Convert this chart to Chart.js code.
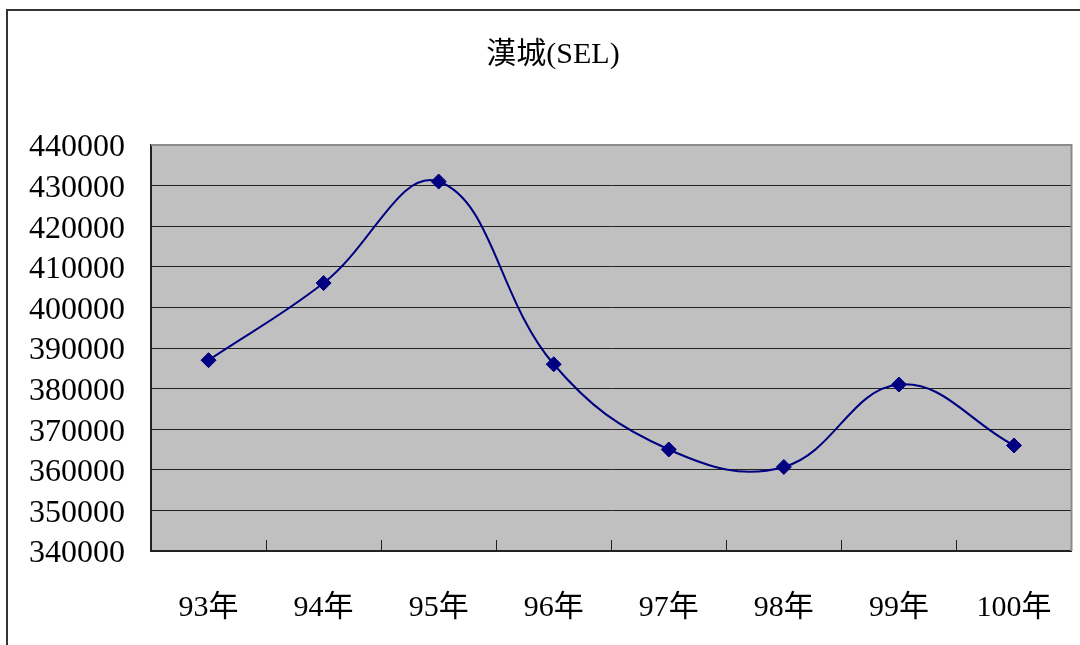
<!DOCTYPE html>
<html>
<head>
<meta charset="utf-8">
<script src="https://cdn.jsdelivr.net/npm/chart.js@4"></script>
<style>
    html, body { margin: 0; padding: 0; background: #fff; }
    #wrap { width: 1080px; height: 645px; position: relative; }
</style>
</head>
<body>
<div id="wrap"><canvas id="chart" width="1080" height="645"></canvas></div>
<script>
const title = '漢城(SEL)';
const years = ['93年', '94年', '95年', '96年', '97年', '98年', '99年', '100年'];
const passengers = [387000, 406000, 431000, 386000, 365000, 360700, 381000, 366000];
const yMin = 340000;
const yMax = 440000;
const yStep = 10000;

const fontFamily = '"Liberation Serif", "DejaVu Serif", "Noto Sans CJK TC", serif';

// Excel style frame, title, gray plot area and its border
const framePlugin = {
    id: 'frame',
    beforeDraw(chart) {
        const { ctx, chartArea: a } = chart;
        ctx.save();
        ctx.fillStyle = '#c0c0c0';
        ctx.fillRect(a.left, a.top, a.right - a.left, a.bottom - a.top);
        ctx.strokeStyle = '#333';
        ctx.lineWidth = 2;
        ctx.beginPath();
        ctx.moveTo(7, 645);
        ctx.lineTo(7, 10);
        ctx.lineTo(1080, 10);
        ctx.stroke();
        // chart title, sits left of the plot centre like the original
        ctx.fillStyle = '#000';
        ctx.font = '30px ' + fontFamily;
        ctx.textAlign = 'center';
        ctx.textBaseline = 'middle';
        ctx.fillText(title, 553, 55);
        ctx.restore();
    },
    beforeDatasetsDraw(chart) {
        const { ctx, chartArea: a } = chart;
        ctx.save();
        ctx.strokeStyle = '#8a8a8a';
        ctx.lineWidth = 2;
        ctx.beginPath();
        ctx.moveTo(a.left, a.top);
        ctx.lineTo(a.right, a.top);
        ctx.lineTo(a.right, a.bottom);
        ctx.stroke();
        ctx.restore();
    }
};

new Chart(document.getElementById('chart').getContext('2d'), {
    type: 'line',
    data: {
        labels: years,
        datasets: [{
            label: title,
            data: passengers,
            borderColor: '#000080',
            backgroundColor: '#000080',
            borderWidth: 2,
            tension: 0.4,
            fill: false,
            pointStyle: 'rectRot',
            pointRadius: 7.5,
            pointBackgroundColor: '#000080',
            pointBorderColor: '#000080',
            pointBorderWidth: 1
        }]
    },
    options: {
        responsive: false,
        animation: false,
        devicePixelRatio: 1,
        layout: { padding: { left: 0, right: 8, top: 145, bottom: 0 } },
        plugins: {
            legend: { display: false },
            tooltip: { enabled: false },
            title: { display: false }
        },
        scales: {
            x: {
                offset: true,
                grid: {
                    offset: true,
                    drawOnChartArea: false,
                    drawTicks: true,
                    tickLength: -11,
                    color: '#222',
                    lineWidth: 1
                },
                border: { display: true, color: '#222', width: 2 },
                ticks: {
                    color: '#000',
                    padding: 50,
                    maxRotation: 0,
                    autoSkip: false,
                    font: { family: fontFamily, size: 30, lineHeight: 1.2 }
                },
                afterFit: (scale) => {
                    scale.height = 94;
                    scale.paddingLeft = 0;
                    scale.paddingRight = 0;
                }
            },
            y: {
                min: yMin,
                max: yMax,
                grid: {
                    color: '#222',
                    lineWidth: 1,
                    drawTicks: false
                },
                border: { display: true, color: '#222', width: 2 },
                ticks: {
                    stepSize: yStep,
                    color: '#000',
                    padding: 26,
                    labelOffset: 3,
                    autoSkip: false,
                    font: { family: fontFamily, size: 32, lineHeight: 1.2 },
                    callback: (value) => String(value)
                },
                afterFit: (scale) => {
                    scale.width = 151;
                    scale.paddingTop = 0;
                    scale.paddingBottom = 0;
                }
            }
        }
    },
    plugins: [framePlugin]
});
</script>
</body>
</html>
